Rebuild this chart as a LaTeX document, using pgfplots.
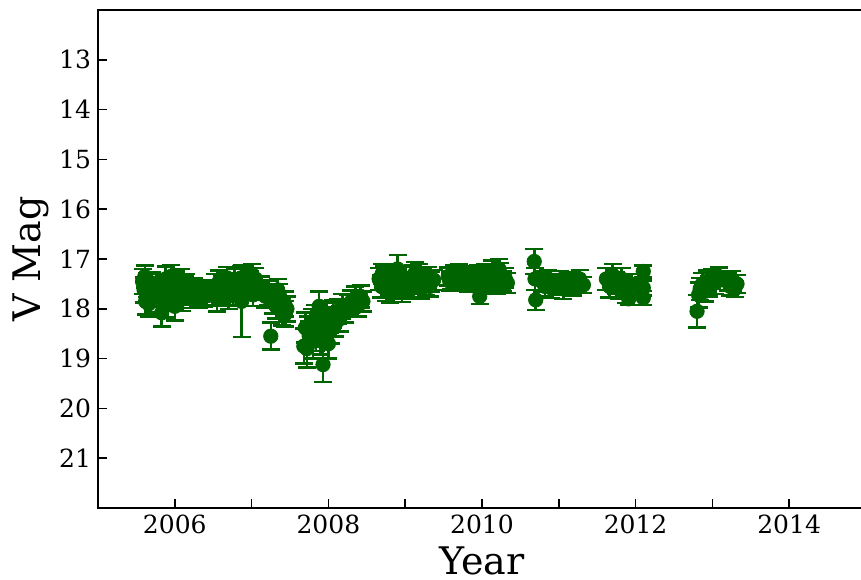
\documentclass[border=0pt]{standalone}
\usepackage{pgfplots}
\pgfplotsset{compat=1.18}
\usepackage{pgfplotstable}
\usepackage{fontspec}
\setmainfont{DejaVu Serif}
\definecolor{dgreen}{RGB}{0,100,0}

% year, V magnitude, error
\pgfplotstableread{
x y e
2005.58 17.45 0.25
2005.60 17.62 0.25
2005.62 17.85 0.27
2005.64 17.52 0.24
2005.66 17.90 0.26
2005.68 17.70 0.25
2005.70 17.48 0.22
2005.80 17.78 0.28
2005.83 18.08 0.28
2005.86 17.60 0.25
2005.88 17.40 0.25
2005.90 17.88 0.30
2005.93 17.55 0.24
2005.95 17.35 0.23
2005.98 17.72 0.25
2006.00 17.95 0.28
2006.02 17.50 0.25
2006.05 17.65 0.26
2006.08 17.42 0.22
2006.10 17.80 0.24
2006.13 17.58 0.23
2006.17 17.70 0.22
2006.20 17.62 0.20
2006.23 17.78 0.20
2006.27 17.68 0.20
2006.30 17.72 0.22
2006.34 17.66 0.20
2006.38 17.75 0.20
2006.41 17.70 0.22
2005.61 17.35 0.22
2005.67 17.62 0.24
2005.78 17.55 0.25
2005.91 17.68 0.24
2006.04 17.82 0.22
2006.15 17.52 0.22
2006.25 17.58 0.20
2006.32 17.80 0.18
2006.40 17.62 0.20
2006.52 17.55 0.25
2006.55 17.80 0.25
2006.58 17.45 0.22
2006.62 17.65 0.24
2006.66 17.50 0.22
2006.70 17.75 0.25
2006.74 17.58 0.24
2006.78 17.42 0.23
2006.82 17.68 0.25
2006.87 17.85 0.72
2006.86 17.38 0.24
2006.92 17.35 0.22
2006.95 17.60 0.22
2006.98 17.48 0.24
2007.02 17.72 0.22
2007.05 17.40 0.22
2007.08 17.62 0.20
2007.12 17.55 0.20
2006.60 17.72 0.22
2006.68 17.38 0.22
2006.76 17.70 0.22
2006.90 17.55 0.22
2007.00 17.30 0.20
2007.15 17.62 0.20
2007.18 17.75 0.22
2007.22 17.68 0.25
2007.25 18.55 0.27
2007.28 17.85 0.25
2007.32 17.95 0.25
2007.36 17.72 0.22
2007.40 18.05 0.28
2007.43 17.90 0.25
2007.46 18.00 0.25
2007.34 17.62 0.22
2007.44 18.10 0.26
2007.68 18.75 0.35
2007.70 18.38 0.30
2007.72 18.80 0.38
2007.75 18.55 0.30
2007.78 18.30 0.30
2007.80 18.65 0.35
2007.83 18.20 0.28
2007.86 18.45 0.30
2007.88 17.95 0.30
2007.90 18.60 0.32
2007.93 19.12 0.35
2007.96 18.35 0.30
2007.98 18.15 0.28
2008.00 18.70 0.30
2008.03 18.40 0.30
2008.06 18.10 0.28
2008.09 18.30 0.26
2008.12 18.05 0.25
2008.15 18.20 0.25
2008.18 17.95 0.25
2008.22 18.05 0.22
2008.26 17.92 0.20
2008.30 17.85 0.22
2008.35 17.80 0.25
2008.38 17.95 0.20
2008.42 17.75 0.22
2008.45 17.85 0.20
2007.74 18.45 0.30
2007.84 18.55 0.30
2007.92 18.25 0.28
2008.02 18.22 0.26
2008.66 17.40 0.22
2008.69 17.55 0.22
2008.72 17.35 0.20
2008.75 17.62 0.22
2008.78 17.45 0.22
2008.82 17.30 0.20
2008.85 17.58 0.22
2008.88 17.42 0.22
2008.90 17.20 0.28
2008.93 17.50 0.22
2008.96 17.62 0.24
2009.00 17.38 0.22
2009.03 17.48 0.22
2009.06 17.55 0.22
2009.10 17.35 0.22
2009.13 17.28 0.22
2009.16 17.45 0.20
2009.20 17.58 0.22
2009.23 17.40 0.20
2009.27 17.52 0.20
2009.30 17.38 0.22
2009.34 17.45 0.20
2009.37 17.42 0.20
2008.70 17.30 0.20
2008.80 17.65 0.22
2008.98 17.55 0.20
2009.08 17.60 0.20
2009.18 17.30 0.20
2009.32 17.55 0.20
2009.56 17.35 0.18
2009.60 17.42 0.18
2009.64 17.30 0.18
2009.68 17.45 0.18
2009.72 17.38 0.18
2009.76 17.32 0.18
2009.80 17.40 0.18
2009.84 17.35 0.18
2009.88 17.45 0.18
2009.92 17.38 0.18
2009.97 17.75 0.15
2010.00 17.42 0.18
2010.04 17.30 0.20
2010.08 17.35 0.20
2010.10 17.45 0.20
2010.13 17.25 0.22
2010.17 17.40 0.20
2010.20 17.50 0.20
2010.24 17.30 0.22
2010.27 17.45 0.20
2010.30 17.38 0.20
2010.33 17.48 0.20
2009.58 17.45 0.18
2009.70 17.28 0.18
2009.82 17.48 0.18
2009.95 17.30 0.18
2010.06 17.52 0.18
2010.22 17.20 0.20
2010.68 17.05 0.25
2010.69 17.40 0.22
2010.70 17.82 0.20
2010.78 17.45 0.20
2010.82 17.55 0.20
2010.86 17.40 0.18
2010.90 17.58 0.20
2010.94 17.48 0.18
2010.98 17.52 0.20
2011.02 17.42 0.18
2011.06 17.60 0.20
2011.10 17.50 0.18
2011.14 17.45 0.18
2011.18 17.55 0.18
2011.22 17.48 0.18
2011.27 17.40 0.18
2011.32 17.52 0.16
2011.62 17.40 0.22
2011.66 17.55 0.22
2011.70 17.32 0.22
2011.74 17.48 0.22
2011.78 17.60 0.20
2011.82 17.40 0.22
2011.85 17.55 0.20
2011.88 17.68 0.20
2011.91 17.80 0.12
2011.94 17.50 0.20
2012.10 17.25 0.12
2012.10 17.58 0.15
2012.10 17.78 0.14
2012.80 18.05 0.33
2012.82 17.72 0.25
2012.84 17.60 0.22
2012.87 17.50 0.22
2012.90 17.65 0.20
2012.93 17.45 0.22
2012.96 17.55 0.20
2013.00 17.40 0.20
2013.04 17.48 0.22
2013.08 17.35 0.18
2013.20 17.45 0.18
2013.23 17.55 0.18
2013.26 17.42 0.18
2013.29 17.60 0.16
2013.32 17.50 0.18
}\vmag

\begin{document}
\begin{tikzpicture}
\begin{axis}[
    name=ax,
    scale only axis,
    width=384pt,
    height=249pt,
    xmin=2005, xmax=2015,
    ymin=12, ymax=22,
    y dir=reverse,
    xtick={2006,...,2014},
    xticklabels={2006,,2008,,2010,,2012,,2014},
    ytick={13,...,21},
    xtick pos=bottom,
    ytick pos=left,
    tick align=inside,
    major tick length=4.5pt,
    tick style={line width=0.8pt, black},
    axis line style={line width=1pt},
    tick label style={font=\fontsize{12.5}{14}\selectfont},
    /pgf/number format/assume math mode=true,
    /pgf/number format/1000 sep={},
    xlabel={Year},
    ylabel={V Mag},
    label style={font=\fontsize{19}{21}\selectfont},
    xlabel style={at={(axis description cs:0.5,0)}, anchor=base, yshift=-33pt},
    ylabel style={at={(axis description cs:-0.088,0.5)}, anchor=center},
]
\addplot[
    only marks,
    mark=*,
    mark size=3.6pt,
    mark options={fill=dgreen, draw=dgreen},
    dgreen,
    error bars/.cd,
    y dir=both, y explicit,
    error bar style={line width=1.3pt, dgreen},
    error mark options={rotate=90, mark size=4.5pt, line width=1.3pt, dgreen},
] table[x=x, y=y, y error=e] {\vmag};
\end{axis}
\pgfresetboundingbox
\useasboundingbox ([xshift=-49pt,yshift=-35.5pt]ax.south west) rectangle ([xshift=381.5pt,yshift=5pt]ax.north west);
\end{tikzpicture}
\end{document}
